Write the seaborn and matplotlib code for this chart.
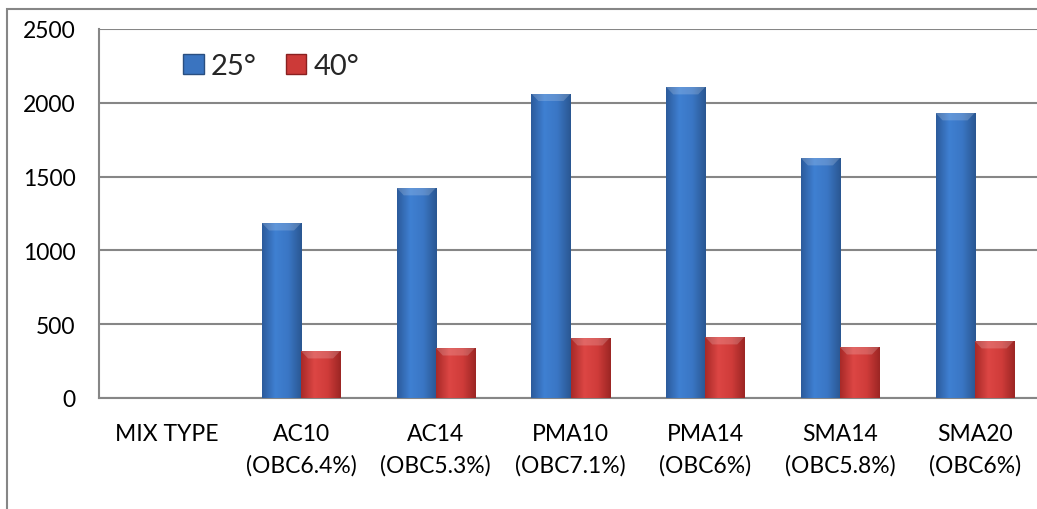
import numpy as np
import pandas as pd
import seaborn as sns
from matplotlib import pyplot as plt
from matplotlib.patches import Patch, Rectangle
from matplotlib.colors import LinearSegmentedColormap

categories = ['MIX TYPE', 'AC10\n(OBC6.4%)', 'AC14\n(OBC5.3%)', 'PMA10\n(OBC7.1%)',
              'PMA14\n(OBC6%)', 'SMA14\n(OBC5.8%)', 'SMA20\n(OBC6%)']
mixes = categories[1:]
temp_25 = [1185, 1423, 2062, 2107, 1626, 1931]
temp_40 = [318, 338, 406, 413, 345, 386]
series = ['25°', '40°']

df = pd.DataFrame({
    'mix': mixes * 2,
    'temp': [series[0]] * len(mixes) + [series[1]] * len(mixes),
    'value': temp_25 + temp_40,
})

sns.set_theme(style='white')
plt.rcParams['font.family'] = ['Lato', 'DejaVu Sans']

fig = plt.figure(figsize=(10.37, 5.10), dpi=100)
ax = fig.add_axes([99 / 1037, 111 / 510, 943 / 1037, 369 / 510])

base = {'25°': '#3a74c0', '40°': '#cc3a38'}
sns.barplot(data=df, x='mix', y='value', hue='temp', order=categories,
            hue_order=series, palette=base, width=0.58, ax=ax,
            edgecolor='none', legend=False, zorder=3)

# Excel-ish shading on each bar
grads = {
    '25°': LinearSegmentedColormap.from_list('b', ['#2c5b9c', '#3f80d2', '#3a76c4', '#2a5792']),
    '40°': LinearSegmentedColormap.from_list('r', ['#a82a28', '#dc4644', '#d03c3a', '#9c2624']),
}
grad = np.linspace(0, 1, 64).reshape(1, -1)
for cont, name in zip(ax.containers, series):
    for bar in cont:
        x0, y0 = bar.get_x(), bar.get_y()
        w, h = bar.get_width(), bar.get_height()
        if not np.isfinite(h) or h <= 0:
            continue
        im = ax.imshow(grad, cmap=grads[name], aspect='auto',
                       extent=(x0, x0 + w, y0, y0 + h), zorder=4)
        im.set_clip_path(bar)
        # top bevel
        bev = 50
        top = plt.Polygon([(x0, y0 + h), (x0 + w, y0 + h),
                           (x0 + w * 0.82, y0 + h - bev), (x0 + w * 0.18, y0 + h - bev)],
                          closed=True, facecolor='white', alpha=0.18, edgecolor='none', zorder=5)
        ax.add_patch(top)

ax.set_xlim(-0.5, len(categories) - 0.5)
ax.set_ylim(0, 2500)
ax.set_yticks([0, 500, 1000, 1500, 2000, 2500])
ax.set_xlabel('')
ax.set_ylabel('')
ax.set_xticks(range(len(categories)))
ax.set_xticklabels(categories, fontsize=16.5, linespacing=1.55)
ax.set_xticks(np.arange(-0.5, len(categories), 1), minor=True)
ax.tick_params(axis='x', which='major', length=0, pad=18)
ax.tick_params(axis='x', which='minor', length=6, width=1.2, color='#868686', direction='out')
ax.tick_params(axis='y', length=5, width=1.2, color='#868686', direction='out',
               labelsize=16.5, pad=12)
for lab in ax.get_yticklabels() + ax.get_xticklabels():
    lab.set_color('black')

ax.grid(axis='y', color='#868686', linewidth=1.5, zorder=0)
ax.set_axisbelow(True)
for side in ['top', 'right']:
    ax.spines[side].set_visible(False)
for side in ['left', 'bottom']:
    ax.spines[side].set_color('#868686')
    ax.spines[side].set_linewidth(1.5)

handles = [Patch(facecolor=base[s], edgecolor='#2a4f80' if s == '25°' else '#8a2020') for s in series]
fig.legend(handles, series, loc='center left', bbox_to_anchor=(157 / 1037, 1 - 67 / 510),
           ncol=2, frameon=False, fontsize=21, handlelength=0.7, handleheight=0.7,
           handletextpad=0.25, columnspacing=1.0)

# outer chart frame
fig.patches.append(Rectangle((7 / 1037, -0.1), 1.2, 1 - 10 / 510 + 0.1, transform=fig.transFigure,
                             fill=False, edgecolor='#868686', linewidth=1.5))

fig.savefig('out.png', dpi=100)
